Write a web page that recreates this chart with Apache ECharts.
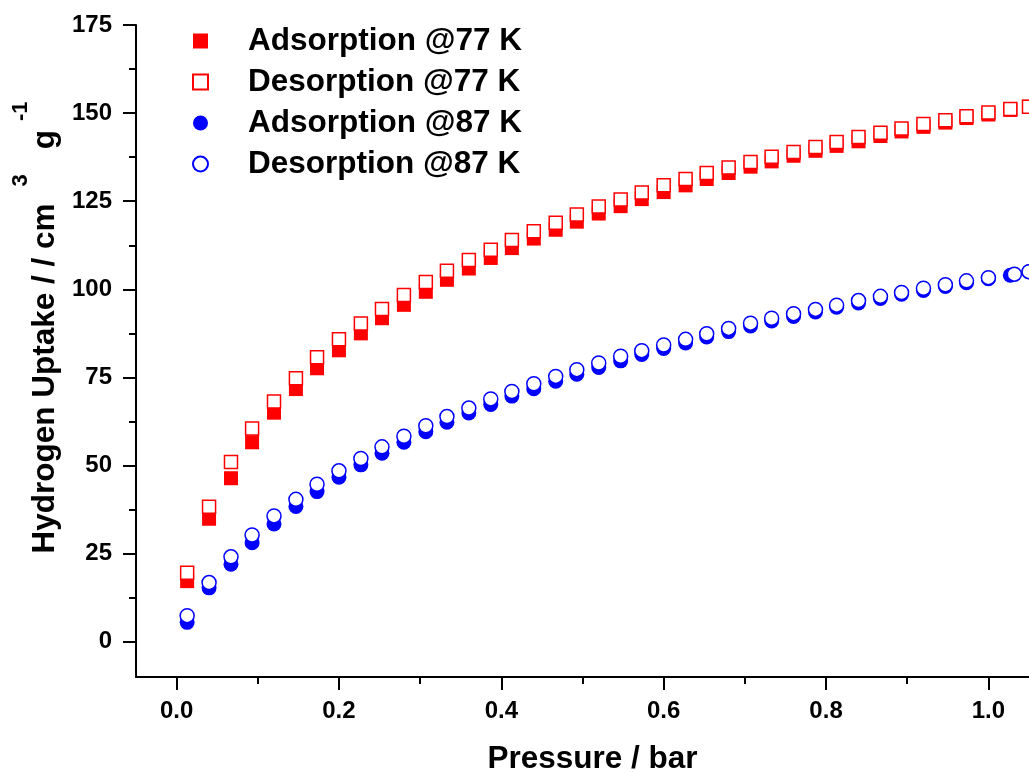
<!DOCTYPE html>
<html>
<head>
<meta charset="utf-8">
<script src="https://cdn.jsdelivr.net/npm/echarts@6/dist/echarts.min.js"></script>
<style>
html,body{margin:0;padding:0;background:#fff;}
#chart{width:1029px;height:773px;}
</style>
</head>
<body>
<div id="chart"></div>
<script>
// ---- data ----
const pressure77 = [0.013, 0.040, 0.067, 0.093, 0.120, 0.147, 0.173, 0.200, 0.227, 0.253,
  0.280, 0.307, 0.333, 0.360, 0.387, 0.413, 0.440, 0.467, 0.493, 0.520,
  0.547, 0.573, 0.600, 0.627, 0.653, 0.680, 0.707, 0.733, 0.760, 0.787,
  0.813, 0.840, 0.867, 0.893, 0.920, 0.947, 0.973, 1.000, 1.027, 1.050];
const ads77 = [17.2, 34.9, 46.4, 56.6, 65.0, 71.7, 77.6, 82.7, 87.5, 91.8,
  95.6, 99.3, 102.7, 105.9, 108.9, 111.7, 114.4, 116.9, 119.2, 121.5,
  123.6, 125.6, 127.6, 129.5, 131.3, 133.0, 134.8, 136.3, 137.9, 139.3,
  140.7, 142.0, 143.5, 144.8, 146.1, 147.3, 148.6, 149.6, 150.9, 151.8];
const des77 = [19.6, 38.3, 51.0, 60.5, 68.2, 74.8, 80.7, 85.8, 90.3, 94.4,
  98.4, 102.1, 105.3, 108.3, 111.2, 114.0, 116.5, 118.9, 121.2, 123.5,
  125.5, 127.5, 129.5, 131.3, 133.0, 134.6, 136.1, 137.6, 139.0, 140.4,
  141.8, 143.2, 144.4, 145.6, 146.9, 148.0, 149.1, 150.2, 151.2, 151.8];
const pressure87Ads = [0.013, 0.040, 0.067, 0.093, 0.120, 0.147, 0.173, 0.200, 0.227, 0.253,
  0.280, 0.307, 0.333, 0.360, 0.387, 0.413, 0.440, 0.467, 0.493, 0.520,
  0.547, 0.573, 0.600, 0.627, 0.653, 0.680, 0.707, 0.733, 0.760, 0.787,
  0.813, 0.840, 0.867, 0.893, 0.920, 0.947, 0.973, 1.000, 1.027, 1.050];
const ads87 = [5.5, 15.3, 22.0, 28.1, 33.4, 38.4, 42.6, 46.7, 50.2, 53.5,
  56.6, 59.6, 62.3, 64.9, 67.3, 69.7, 71.8, 73.9, 75.9, 77.8,
  79.7, 81.5, 83.2, 84.8, 86.5, 88.0, 89.6, 91.0, 92.3, 93.6,
  94.9, 96.1, 97.4, 98.6, 99.7, 100.8, 101.9, 103.0, 104.0, 105.0];
const pressure87Des = [0.013, 0.040, 0.067, 0.093, 0.120, 0.147, 0.173, 0.200, 0.227, 0.253,
  0.280, 0.307, 0.333, 0.360, 0.387, 0.413, 0.440, 0.467, 0.493, 0.520,
  0.547, 0.573, 0.600, 0.627, 0.653, 0.680, 0.707, 0.733, 0.760, 0.787,
  0.813, 0.840, 0.867, 0.893, 0.920, 0.947, 0.973, 1.000, 1.032, 1.050];
const des87 = [7.4, 16.8, 24.1, 30.3, 35.7, 40.4, 44.7, 48.5, 52.0, 55.3,
  58.3, 61.3, 63.9, 66.3, 68.9, 71.0, 73.2, 75.3, 77.2, 79.1,
  81.0, 82.6, 84.2, 85.8, 87.4, 88.9, 90.4, 91.8, 93.1, 94.3,
  95.5, 96.8, 98.0, 99.1, 100.3, 101.3, 102.4, 103.3, 104.3, 105.0];

const seriesNames = ['Adsorption @77 K', 'Desorption @77 K', 'Adsorption @87 K', 'Desorption @87 K'];
const xTickValues = [0, 0.2, 0.4, 0.6, 0.8, 1.0];
const xMinorTicks = [0.1, 0.3, 0.5, 0.7, 0.9];
const yTickValues = [0, 25, 50, 75, 100, 125, 150, 175];
const yMinorTicks = [12.5, 37.5, 62.5, 87.5, 112.5, 137.5, 162.5];

// ---- chart ----
const FONT = '"Liberation Sans", Arial, Helvetica, sans-serif';
const zip = (xs, ys) => xs.map((x, i) => [x, ys[i]]);
const chart = echarts.init(document.getElementById('chart'), null, {renderer: 'canvas'});

const axisLineStyle = {color: '#000', width: 2};
const option = {
  animation: false,
  backgroundColor: '#fff',
  textStyle: {fontFamily: FONT},
  grid: {left: 136, right: 0, top: 25, bottom: 96, containLabel: false, outerBoundsMode: 'none'},
  legend: {
    orient: 'vertical',
    left: 192,
    top: 25,
    padding: 0,
    itemWidth: 15,
    itemHeight: 15,
    itemGap: 9,
    data: seriesNames,
    textStyle: {fontFamily: FONT, fontSize: 31.5, fontWeight: 'bold', color: '#000', lineHeight: 30, padding: [0, 0, 0, 35]}
  },
  xAxis: [{
    type: 'value', min: -0.05, max: 1.05,
    name: 'Pressure / bar', nameLocation: 'middle', nameGap: 66,
    nameTextStyle: {fontFamily: FONT, fontSize: 31.5, fontWeight: 'bold', color: '#000', padding: [0, 0, 0, 20]},
    axisLine: {show: true, onZero: false, lineStyle: axisLineStyle},
    axisTick: {show: true, inside: false, length: 13, customValues: xTickValues, lineStyle: {color: '#000', width: 2}},
    axisLabel: {show: true, customValues: xTickValues, margin: 22, fontFamily: FONT, fontSize: 24, fontWeight: 'bold', color: '#000',
      formatter: v => Number(v).toFixed(1)},
    splitLine: {show: false}
  }, {
    type: 'value', min: -0.05, max: 1.05, gridIndex: 0, position: 'bottom',
    axisLine: {show: false, onZero: false},
    axisTick: {show: true, inside: false, length: 7, customValues: xMinorTicks, lineStyle: {color: '#000', width: 2}},
    axisLabel: {show: false},
    splitLine: {show: false}
  }],
  yAxis: [{
    type: 'value', min: -10, max: 175,
    name: '{m|Hydrogen Uptake / / cm}{s1|3}{g|g}{s2|-1}',
    nameLocation: 'middle', nameGap: 72, nameRotate: 90,
    nameTextStyle: {
      fontFamily: FONT, color: '#000', padding: [0, 0, 0, 47],
      rich: {
        m: {fontFamily: FONT, fontSize: 31.5, fontWeight: 'bold', color: '#000', lineHeight: 31, verticalAlign: 'bottom'},
        g: {fontFamily: FONT, fontSize: 31.5, fontWeight: 'bold', color: '#000', lineHeight: 31, verticalAlign: 'bottom', padding: [0, 0, 0, 25]},
        s1: {fontFamily: FONT, fontSize: 22, fontWeight: 'bold', color: '#000', lineHeight: 51, verticalAlign: 'top', padding: [0, 0, 0, 17]},
        s2: {fontFamily: FONT, fontSize: 22, fontWeight: 'bold', color: '#000', lineHeight: 51, verticalAlign: 'top', padding: [0, 0, 0, 9]}
      }
    },
    axisLine: {show: true, onZero: false, lineStyle: axisLineStyle},
    axisTick: {show: true, inside: false, length: 13, customValues: yTickValues, lineStyle: {color: '#000', width: 2}},
    axisLabel: {show: true, customValues: yTickValues, margin: 24, fontFamily: FONT, fontSize: 24, fontWeight: 'bold', color: '#000'},
    splitLine: {show: false}
  }, {
    type: 'value', min: -10, max: 175, gridIndex: 0, position: 'left',
    axisLine: {show: false, onZero: false},
    axisTick: {show: true, inside: false, length: 7, customValues: yMinorTicks, lineStyle: {color: '#000', width: 2}},
    axisLabel: {show: false},
    splitLine: {show: false}
  }],
  series: [{
    name: seriesNames[0], type: 'scatter', symbol: 'rect', symbolSize: 14,
    data: zip(pressure77, ads77),
    itemStyle: {color: '#ff0000', opacity: 1}
  }, {
    name: seriesNames[1], type: 'scatter', symbol: 'rect', symbolSize: 13,
    data: zip(pressure77, des77),
    itemStyle: {color: '#ffffff', borderColor: '#ff0000', borderWidth: 1.5, opacity: 1}
  }, {
    name: seriesNames[2], type: 'scatter', symbol: 'circle', symbolSize: 15,
    data: zip(pressure87Ads, ads87),
    itemStyle: {color: '#0000ff', opacity: 1}
  }, {
    name: seriesNames[3], type: 'scatter', symbol: 'circle', symbolSize: 14,
    data: zip(pressure87Des, des87),
    itemStyle: {color: '#ffffff', borderColor: '#0000ff', borderWidth: 1.5, opacity: 1}
  }]
};
chart.setOption(option);
</script>
</body>
</html>
